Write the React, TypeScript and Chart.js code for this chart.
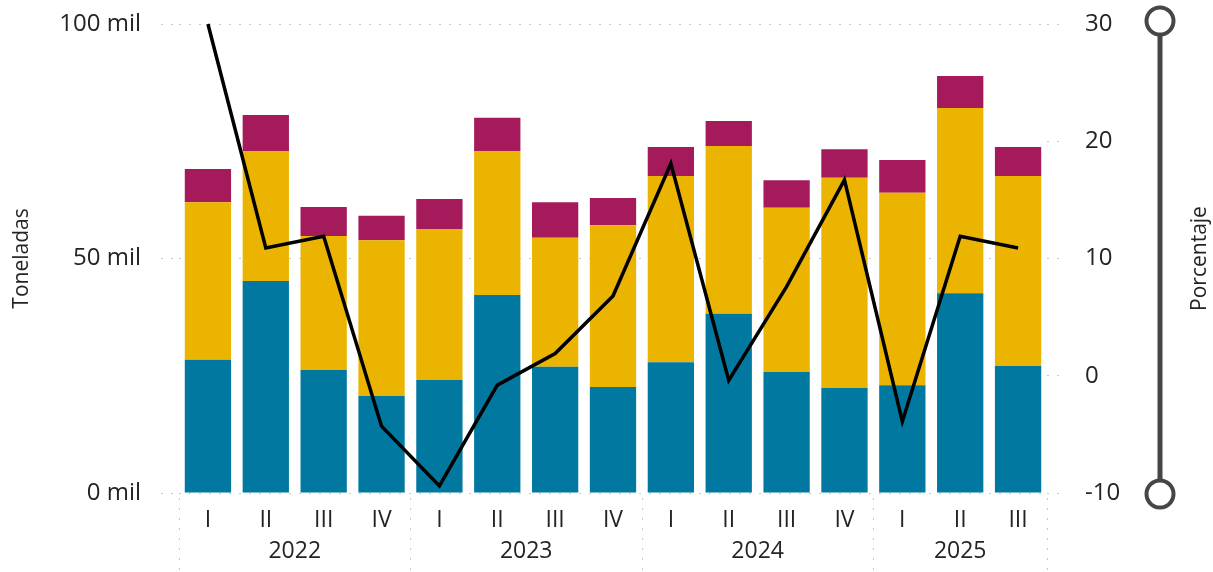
import React, { useEffect, useRef } from "react";
import { Chart, registerables } from "chart.js";

Chart.register(...registerables);

const quarters = ["I", "II", "III", "IV", "I", "II", "III", "IV", "I", "II", "III", "IV", "I", "II", "III"];
const years = ["2022", "2023", "2024", "2025"];
const yearSpans = [4, 4, 4, 3];

// thousands of tonnes
const blueVals = [28.4, 45.2, 26.2, 20.7, 24.1, 42.2, 26.9, 22.6, 27.9, 38.2, 25.8, 22.4, 23.0, 42.6, 27.1];
const yellowVals = [33.6, 27.7, 28.6, 33.2, 32.2, 30.7, 27.5, 34.5, 39.7, 35.8, 35.0, 44.8, 41.0, 39.5, 40.5];
const magentaVals = [7.1, 7.7, 6.2, 5.2, 6.4, 7.1, 7.6, 5.8, 6.2, 5.3, 5.9, 6.1, 7.0, 6.8, 6.2];
// percentage
const lineVals = [30, 10.9, 11.9, -4.3, -9.4, -0.8, 1.9, 6.8, 18.1, -0.4, 7.6, 16.7, -3.9, 11.9, 10.9];

const leftTitle = "Toneladas";
const rightTitle = "Porcentaje";

const FONT = "'Open Sans', 'Noto Sans', sans-serif";
const TEXT = "#252423";
const GRID = "#c8c8c8";
const TICK_SIZE = 23;
const Y_TICK_SIZE = 24;

const extrasPlugin = {
  id: "extras",
  afterDraw(chart: any) {
    const ctx = chart.ctx;
    const xs = chart.scales.x;
    const area = chart.chartArea;
    ctx.save();
    // year separators
    const bounds: number[] = [area.left];
    let idx = 0;
    for (let i = 0; i < yearSpans.length; i++) {
      idx += yearSpans[i];
      if (idx < quarters.length) {
        bounds.push((xs.getPixelForValue(idx - 1) + xs.getPixelForValue(idx)) / 2);
      } else {
        bounds.push(area.right);
      }
    }
    ctx.strokeStyle = GRID;
    ctx.lineWidth = 1;
    ctx.setLineDash([2, 8]);
    for (const b of bounds) {
      const x = Math.round(b) + 0.5;
      ctx.beginPath();
      ctx.moveTo(x, area.bottom + 5);
      ctx.lineTo(x, chart.height);
      ctx.stroke();
    }
    ctx.setLineDash([]);
    // year labels
    ctx.fillStyle = TEXT;
    ctx.font = `${TICK_SIZE}px ${FONT}`;
    ctx.textAlign = "center";
    ctx.textBaseline = "middle";
    for (let i = 0; i < years.length; i++) {
      ctx.fillText(years[i], (bounds[i] + bounds[i + 1]) / 2, 551);
    }
    // axis titles
    ctx.font = `21px ${FONT}`;
    const midY = (area.top + area.bottom) / 2;
    ctx.save();
    ctx.translate(22, midY);
    ctx.rotate(-Math.PI / 2);
    ctx.fillText(leftTitle, 0, 0);
    ctx.restore();
    ctx.save();
    ctx.translate(1200, midY);
    ctx.rotate(-Math.PI / 2);
    ctx.fillText(rightTitle, 0, 0);
    ctx.restore();
    // slider
    const sx = 1160;
    ctx.strokeStyle = "#484644";
    ctx.lineWidth = 5;
    ctx.beginPath();
    ctx.moveTo(sx, area.top);
    ctx.lineTo(sx, area.bottom);
    ctx.stroke();
    ctx.lineWidth = 4;
    ctx.fillStyle = "#ffffff";
    for (const cy of [21, 494]) {
      ctx.beginPath();
      ctx.arc(sx, cy, 13.5, 0, Math.PI * 2);
      ctx.fill();
      ctx.stroke();
    }
    ctx.restore();
  },
};

export default function App() {
  const ref = useRef<HTMLCanvasElement>(null);
  useEffect(() => {
    if (!ref.current) return;
    const chart = new Chart(ref.current, {
      type: "bar",
      data: {
        labels: quarters,
        datasets: [
          {
            type: "line",
            data: lineVals,
            yAxisID: "y1",
            borderColor: "#000000",
            borderWidth: 3.5,
            pointRadius: 0,
            tension: 0,
            order: 0,
            clip: false,
          } as any,
          { data: blueVals, backgroundColor: "#0078A0", yAxisID: "y", order: 1, barPercentage: 0.8, categoryPercentage: 1 },
          { data: yellowVals, backgroundColor: "#EBB400", yAxisID: "y", order: 1, barPercentage: 0.8, categoryPercentage: 1 },
          { data: magentaVals, backgroundColor: "#A51A5B", yAxisID: "y", order: 1, barPercentage: 0.8, categoryPercentage: 1 },
        ],
      },
      options: {
        responsive: false,
        animation: false,
        events: [],
        layout: { padding: { top: 24, left: 0, right: 0, bottom: 0 } },
        plugins: { legend: { display: false }, tooltip: { enabled: false } },
        scales: {
          x: {
            stacked: true,
            grid: { display: false },
            border: { display: false },
            ticks: { color: TEXT, font: { family: FONT, size: TICK_SIZE }, padding: 6, maxRotation: 0, autoSkip: false },
            afterFit: (s: any) => { s.height = 79; s.paddingLeft = 0; s.paddingRight = 0; },
          },
          y: {
            stacked: true,
            position: "left",
            min: 0,
            max: 100,
            border: { display: false, dash: [2, 8] },
            grid: {
              color: GRID,
              lineWidth: 1,
              tickBorderDash: [2, 8],
              tickColor: GRID,
              tickLength: 18,
              drawTicks: true,
            } as any,
            ticks: {
              stepSize: 50,
              color: TEXT,
              padding: 20,
              font: { family: FONT, size: Y_TICK_SIZE },
              callback: (v: any) => `${v} mil`,
            },
            afterFit: (s: any) => { s.width = 179; s.paddingTop = 0; s.paddingBottom = 0; },
          },
          y1: {
            position: "right",
            min: -10,
            max: 30,
            border: { display: false, dash: [2, 8] },
            grid: {
              drawOnChartArea: false,
              color: GRID,
              tickColor: GRID,
              tickBorderDash: [2, 8],
              tickLength: 18,
              drawTicks: true,
            } as any,
            ticks: {
              stepSize: 10,
              color: TEXT,
              padding: 20,
              font: { family: FONT, size: Y_TICK_SIZE },
            },
            afterFit: (s: any) => { s.width = 166; s.paddingTop = 0; s.paddingBottom = 0; },
          },
        },
      },
      plugins: [extrasPlugin],
    });
    return () => chart.destroy();
  }, []);
  return (
    <div style={{ position: "absolute", left: 0, top: 0, width: 1213, height: 572, background: "#fff" }}>
      <canvas ref={ref} width={1213} height={572} />
    </div>
  );
}
